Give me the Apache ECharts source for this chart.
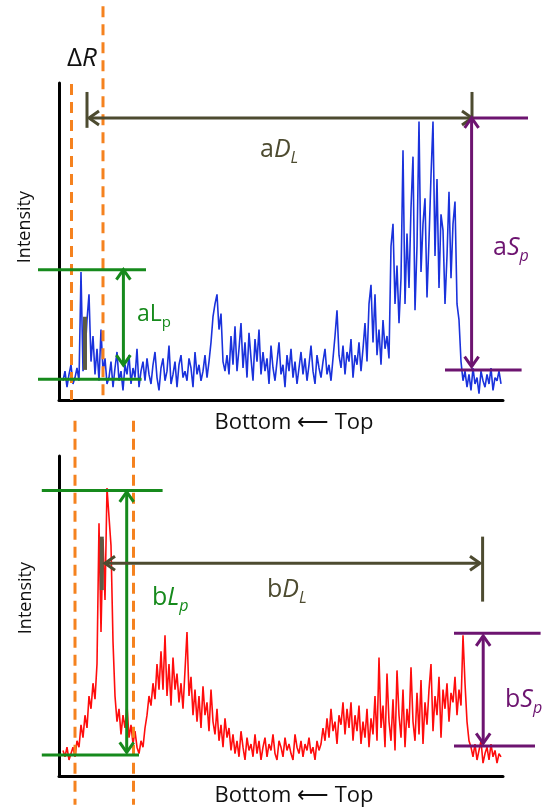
<!DOCTYPE html>
<html lang="en">
<head>
<meta charset="UTF-8">
<script src="https://cdn.jsdelivr.net/npm/echarts@6/dist/echarts.min.js"></script>
<title>Lipid profile schematic</title>
<style>
  html, body { margin: 0; padding: 0; background: #fff; }
  #main { width: 547px; height: 812px; }
</style>
</head>
<body>
<div id="main"></div>
<script>
// sample index runs along the x axis, intensity in arbitrary units
var topSignal = [
  6,9,4,8,11,5,7,10,6,40,9,14,25,33,12,20,8,16,6,22,9,13,5,
  7,12,4,10,15,6,9,3,11,8,14,5,10,7,16,4,9,12,6,13,8,5,11,15,7,3,10,13,6,9,17,5,8,12,4,11,14,7,9,6,13,10,4,15,8,11,6,9,14,7,12,
  18,26,30,33,22,27,12,9,
  14,8,20,11,23,9,16,24,10,18,7,21,13,6,19,12,22,8,15,
  9,13,5,17,10,6,12,18,8,11,4,14,9,16,7,12,5,10,15,8,13,6,11,17,9,5,14,10,7,12,16,8,11,6,13,
  20,28,14,10,17,8,15,12,19,7,14,11,18,9,16,
  24,12,30,36,18,33,14,22,11,25,16,20,13,
  48,55,30,42,24,
  38,78,30,52,35,60,76,28,48,87,40,55,63,32,50,70,87,45,69,35,58,53,30,45,65,38,55,62,30,25,
  12,6,9,4,8,3,10,5,7,2,9,6,4,8,5,10,3,7,6,9,5
];
var bottomSignal = [
  8,6,9,5,7,9,6,
  11,9,16,12,19,15,
  25,21,29,24,35,
  79,45,74,55,90,81,72,42,25,
  17,21,13,19,15,22,12,16,10,14,9,
  7,11,9,
  15,19,25,22,29,24,35,27,39,
  27,44,25,35,22,37,27,32,23,29,21,33,45,25,31,19,27,17,25,15,28,19,23,14,27,17,13,21,11,16,9,18,12,15,8,
  13,7,11,6,14,9,5,12,8,10,6,13,7,11,5,9,12,6,10,8,13,7,5,11,9,6,12,8,10,7,5,13,9,7,11,6,10,8,12,7,9,5,11,8,10,
  15,11,18,12,21,14,17,10,
  19,16,23,13,21,15,23,11,19,14,22,10,17,12,21,9,18,13,25,11,37,15,22,9,32,17,11,24,8,33,
  19,12,27,9,21,15,34,17,11,26,13,30,10,23,16,27,35,14,25,19,31,12,27,21,29,17,26,23,31,19,27,22,
  44,29,17,11,
  9,6,10,5,8,11,4,7,9,5,10,6,8,4,7,6
];

// annotation levels, same units as the data
var topDeltaR = [4.25, 20];
var topLp = [40.7, 6.5];
var topDl = [13, 204.5];
var topSp = [88.1, 9.4];
var bottomDeltaR = [6, 35.25];
var bottomLp = [89.2, 6.6];
var bottomDl = [21, 208.5];
var bottomSp = [44.6, 9.4];

var GREEN = '#168a1c', OLIVE = '#4d4b30', PURPLE = '#6d1470', ORANGE = '#f5821f';
var FONT = '"Open Sans", sans-serif';

var chart = echarts.init(document.getElementById('main'));

function axisPair(g, yMax) {
  return {
    x: {
      gridIndex: g, type: 'value', min: -2, max: 220,
      axisLine: { show: true, onZero: false, lineStyle: { color: '#000', width: 3 } },
      axisTick: { show: false }, axisLabel: { show: false }, splitLine: { show: false }
    },
    y: {
      gridIndex: g, type: 'value', min: 0, max: yMax,
      axisLine: { show: true, onZero: false, lineStyle: { color: '#000', width: 3 } },
      axisTick: { show: false }, axisLabel: { show: false }, splitLine: { show: false }
    }
  };
}
var a0 = axisPair(0, 99), a1 = axisPair(1, 100);

chart.setOption({
  animation: false,
  grid: [
    { left: 59, right: 44, top: 83, height: 317 },
    { left: 59, right: 44, top: 456, height: 320 }
  ],
  xAxis: [a0.x, a1.x],
  yAxis: [a0.y, a1.y],
  series: [
    {
      type: 'line', xAxisIndex: 0, yAxisIndex: 0, showSymbol: false, silent: true,
      data: topSignal.map(function (v, i) { return [i, v]; }),
      lineStyle: { color: '#1a32dc', width: 1.6 }
    },
    {
      type: 'line', xAxisIndex: 1, yAxisIndex: 1, showSymbol: false, silent: true,
      data: bottomSignal.map(function (v, i) { return [i, v]; }),
      lineStyle: { color: '#ff0d0d', width: 1.6 }
    }
  ]
});

function px(g, x, y) {
  return chart.convertToPixel({ gridIndex: g }, [x, y]);
}
function seg(g, x1, y1, x2, y2, color, w, dash) {
  var p = px(g, x1, y1), q = px(g, x2, y2);
  return {
    type: 'line', silent: true, z: 10,
    shape: { x1: p[0], y1: p[1], x2: q[0], y2: q[1] },
    style: { stroke: color, lineWidth: w, lineDash: dash || null }
  };
}
// open chevron head sitting at (x2, y2)
function head(g, x1, y1, x2, y2, color) {
  var p = px(g, x1, y1), q = px(g, x2, y2);
  var dx = q[0] - p[0], dy = q[1] - p[1];
  var len = Math.sqrt(dx * dx + dy * dy);
  dx /= len; dy /= len;
  var L = 10, W = 7;
  return {
    type: 'polyline', silent: true, z: 11,
    shape: { points: [
      [q[0] - dx * L - dy * W, q[1] - dy * L + dx * W],
      [q[0], q[1]],
      [q[0] - dx * L + dy * W, q[1] - dy * L - dx * W]
    ] },
    style: { stroke: color, lineWidth: 3, fill: null, lineJoin: 'miter' }
  };
}
function dbl(g, x1, y1, x2, y2, color) {
  return [seg(g, x1, y1, x2, y2, color, 3), head(g, x1, y1, x2, y2, color), head(g, x2, y2, x1, y1, color)];
}
function label(g, x, y, text, color, size, align) {
  var p = px(g, x, y);
  var lh = size + 8;
  var sub = Math.round(size * 0.64);
  return {
    type: 'text', silent: true, z: 12, x: p[0], y: p[1],
    style: {
      text: text, fill: color, align: align || 'left', verticalAlign: 'middle',
      font: size + 'px ' + FONT,
      rich: {
        n: { fontSize: size, fontFamily: FONT, fill: color, lineHeight: lh },
        i: { fontSize: size, fontFamily: FONT, fontStyle: 'italic', fill: color, lineHeight: lh },
        s: { fontSize: sub, fontFamily: FONT, fill: color, verticalAlign: 'bottom', lineHeight: lh },
        si: { fontSize: sub, fontFamily: FONT, fontStyle: 'italic', fill: color, verticalAlign: 'bottom', lineHeight: lh }
      }
    }
  };
}
function axisText(g, x, y, text, size, rot) {
  var p = px(g, x, y);
  return {
    type: 'text', silent: true, x: p[0], y: p[1], rotation: rot || 0,
    style: { text: text, fill: '#111', font: size + 'px ' + FONT, align: 'center', verticalAlign: 'middle' }
  };
}

var els = [];
var dash = [11, 7];
// top panel
els.push(seg(0, topDeltaR[0], 98.7, topDeltaR[0], 0, ORANGE, 3, dash));
els.push(seg(0, topDeltaR[1], 123, topDeltaR[1], 0, ORANGE, 3, dash));
els.push(seg(0, -12.5, topLp[0], 41.5, topLp[0], GREEN, 3));
els.push(seg(0, -12.5, topLp[1], 39.3, topLp[1], GREEN, 3));
els = els.concat(dbl(0, 30.2, topLp[0], 30.2, 10.9, GREEN));
els.push(seg(0, 11, 26, 11, 9.4, '#5c5b44', 4));
els.push(seg(0, 12, 96.2, 12, 85, OLIVE, 3));
els.push(seg(0, topDl[1], 96.2, topDl[1], topSp[0], OLIVE, 3));
els = els.concat(dbl(0, topDl[0], topSp[0], topDl[1], topSp[0], OLIVE));
els.push(seg(0, topDl[1], topSp[0], 232.5, topSp[0], PURPLE, 3));
els.push(seg(0, 191, topSp[1], 229.3, topSp[1], PURPLE, 3));
els = els.concat(dbl(0, 204.3, topSp[0], 204.3, 10.4, PURPLE));
els.push(label(0, 9.5, 106.5, '{n|Δ}{i|R}', '#111', 26, 'center'));
els.push(label(0, 37, 26.6, '{n|aL}{s|p}', GREEN, 23));
els.push(label(0, 98.5, 78.1, '{n|a}{i|D}{si|L}', OLIVE, 25));
els.push(label(0, 215, 47.5, '{n|a}{i|S}{si|p}', PURPLE, 25));
els.push(axisText(0, -19, 54, 'Intensity', 18, Math.PI / 2));
els.push(axisText(0, 115.5, -7.2, 'Bottom \u27f5 Top', 22));
// bottom panel
els.push(seg(1, bottomDeltaR[0], 111, bottomDeltaR[0], -9, ORANGE, 3, dash));
els.push(seg(1, bottomDeltaR[1], 111, bottomDeltaR[1], -9, ORANGE, 3, dash));
els.push(seg(1, -10.6, bottomLp[0], 49.8, bottomLp[0], GREEN, 3));
els.push(seg(1, -10.6, bottomLp[1], 38, bottomLp[1], GREEN, 3));
els = els.concat(dbl(1, 31.85, bottomLp[0] - 0.4, 31.85, bottomLp[1] + 0.8, GREEN));
els.push(seg(1, 19.4, 74.8, 19.4, 58.1, '#5c5b44', 4));
els = els.concat(dbl(1, bottomDl[0], 66.5, bottomDl[1], 66.5, OLIVE));
els.push(seg(1, 209.8, 74.8, 209.8, 54.5, OLIVE, 3));
els.push(seg(1, 195.5, bottomSp[0], 238.8, bottomSp[0], PURPLE, 3));
els.push(seg(1, 195.5, bottomSp[1], 236, bottomSp[1], PURPLE, 3));
els = els.concat(dbl(1, 210.1, bottomSp[0] - 0.8, 210.1, bottomSp[1] + 0.8, PURPLE));
els.push(label(1, 44.5, 55.6, '{n|b}{i|L}{si|p}', GREEN, 25));
els.push(label(1, 102, 58.1, '{n|b}{i|D}{si|L}', OLIVE, 25));
els.push(label(1, 221, 23.75, '{n|b}{i|S}{si|p}', PURPLE, 25));
els.push(axisText(1, -18.5, 55.6, 'Intensity', 18, Math.PI / 2));
els.push(axisText(1, 115.5, -6.2, 'Bottom \u27f5 Top', 22));

chart.setOption({ graphic: els });
</script>
</body>
</html>
